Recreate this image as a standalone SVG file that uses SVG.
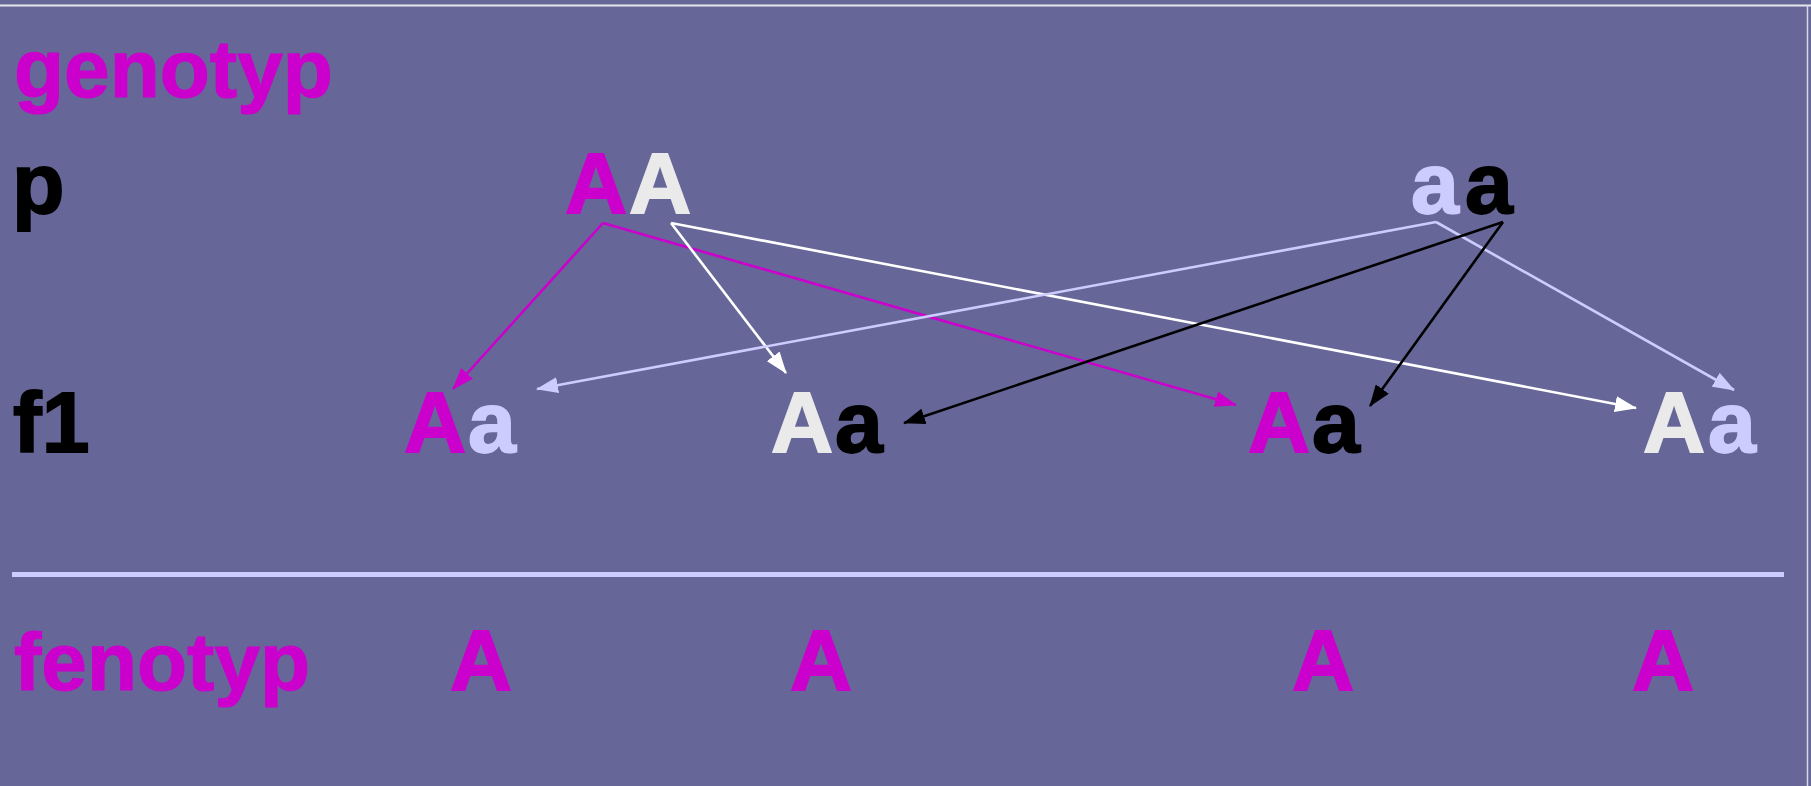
<svg xmlns="http://www.w3.org/2000/svg" width="1811" height="786" viewBox="0 0 1811 786">
  <style>
    text { font-family: "Liberation Sans", Arial, sans-serif; font-weight: bold; }
    .big { font-size: 86px; stroke-width: 1.8; }
    .lbl { font-size: 82px; stroke-width: 1.2; }
    .mag { fill: #CC00CC; stroke: #CC00CC; }
    .wht { fill: #EAEAEA; stroke: #EAEAEA; }
    .lav { fill: #CCCCFF; stroke: #CCCCFF; }
    .blk { fill: #000000; stroke: #000000; }
    .ln { fill: none; stroke-width: 2.6; }
  </style>
  <defs>
    <marker id="ah-mag" viewBox="0 0 22 16" refX="21" refY="8" markerWidth="22" markerHeight="16" markerUnits="userSpaceOnUse" orient="auto"><path d="M0,0 L22,8 L0,16 z" fill="#CC00CC"/></marker>
    <marker id="ah-wht" viewBox="0 0 22 16" refX="21" refY="8" markerWidth="22" markerHeight="16" markerUnits="userSpaceOnUse" orient="auto"><path d="M0,0 L22,8 L0,16 z" fill="#FFFFFF"/></marker>
    <marker id="ah-lav" viewBox="0 0 22 16" refX="21" refY="8" markerWidth="22" markerHeight="16" markerUnits="userSpaceOnUse" orient="auto"><path d="M0,0 L22,8 L0,16 z" fill="#CCCCFF"/></marker>
    <marker id="ah-blk" viewBox="0 0 22 16" refX="21" refY="8" markerWidth="22" markerHeight="16" markerUnits="userSpaceOnUse" orient="auto"><path d="M0,0 L22,8 L0,16 z" fill="#000000"/></marker>
  </defs>

  <!-- slide background and frame -->
  <rect x="0" y="0" width="1811" height="786" fill="#666699"/>
  <line x1="0" y1="5.5" x2="1811" y2="5.5" stroke="#E6E6EE" stroke-width="2"/>
  <line x1="1807.5" y1="5" x2="1807.5" y2="786" stroke="#D8D8E4" stroke-width="1.5"/>

  <!-- row labels -->
  <g id="label-genotyp"><text class="lbl mag" x="14" y="97">genotyp</text></g>
  <g id="label-p"><text class="big blk" x="12" y="213">p</text></g>
  <g id="label-f1"><text class="big blk" x="13" y="452">f1</text></g>
  <g id="label-fenotyp"><text class="lbl mag" x="14" y="690">fenotyp</text></g>

  <!-- divider between genotype and phenotype -->
  <rect x="12" y="572" width="1772" height="5" fill="#CCCCFF"/>

  <!-- parents -->
  <g id="parent-AA">
    <text class="big mag" x="565" y="213">A</text>
    <text class="big wht" x="629" y="213">A</text>
  </g>
  <g id="parent-aa">
    <text class="big lav" x="1411" y="213">a</text>
    <text class="big blk" x="1465" y="213">a</text>
  </g>

  <!-- offspring genotypes -->
  <g id="f1-1">
    <text class="big mag" x="404" y="452">A</text>
    <text class="big lav" x="468" y="452">a</text>
  </g>
  <g id="f1-2">
    <text class="big wht" x="771" y="452">A</text>
    <text class="big blk" x="835" y="452">a</text>
  </g>
  <g id="f1-3">
    <text class="big mag" x="1248" y="452">A</text>
    <text class="big blk" x="1312" y="452">a</text>
  </g>
  <g id="f1-4">
    <text class="big wht" x="1643" y="452">A</text>
    <text class="big lav" x="1708" y="452">a</text>
  </g>

  <!-- phenotypes -->
  <g id="pheno-1"><text class="big mag" x="450" y="690">A</text></g>
  <g id="pheno-2"><text class="big mag" x="790" y="690">A</text></g>
  <g id="pheno-3"><text class="big mag" x="1292" y="690">A</text></g>
  <g id="pheno-4"><text class="big mag" x="1632" y="690">A</text></g>

  <!-- allele transmission arrows -->
  <g id="connectors">
    <line class="ln" x1="603" y1="223" x2="453" y2="389" stroke="#CC00CC" marker-end="url(#ah-mag)"/>
    <line class="ln" x1="603" y1="223" x2="1236" y2="405" stroke="#CC00CC" marker-end="url(#ah-mag)"/>
    <line class="ln" x1="671" y1="223" x2="786" y2="373" stroke="#FFFFFF" marker-end="url(#ah-wht)"/>
    <line class="ln" x1="671" y1="223" x2="1636" y2="408" stroke="#FFFFFF" marker-end="url(#ah-wht)"/>
    <line class="ln" x1="1436" y1="222" x2="537" y2="389" stroke="#CCCCFF" marker-end="url(#ah-lav)"/>
    <line class="ln" x1="1436" y1="222" x2="1734" y2="390" stroke="#CCCCFF" marker-end="url(#ah-lav)"/>
    <line class="ln" x1="1503" y1="222" x2="904" y2="423" stroke="#000000" marker-end="url(#ah-blk)"/>
    <line class="ln" x1="1503" y1="222" x2="1370" y2="406" stroke="#000000" marker-end="url(#ah-blk)"/>
  </g>
</svg>
